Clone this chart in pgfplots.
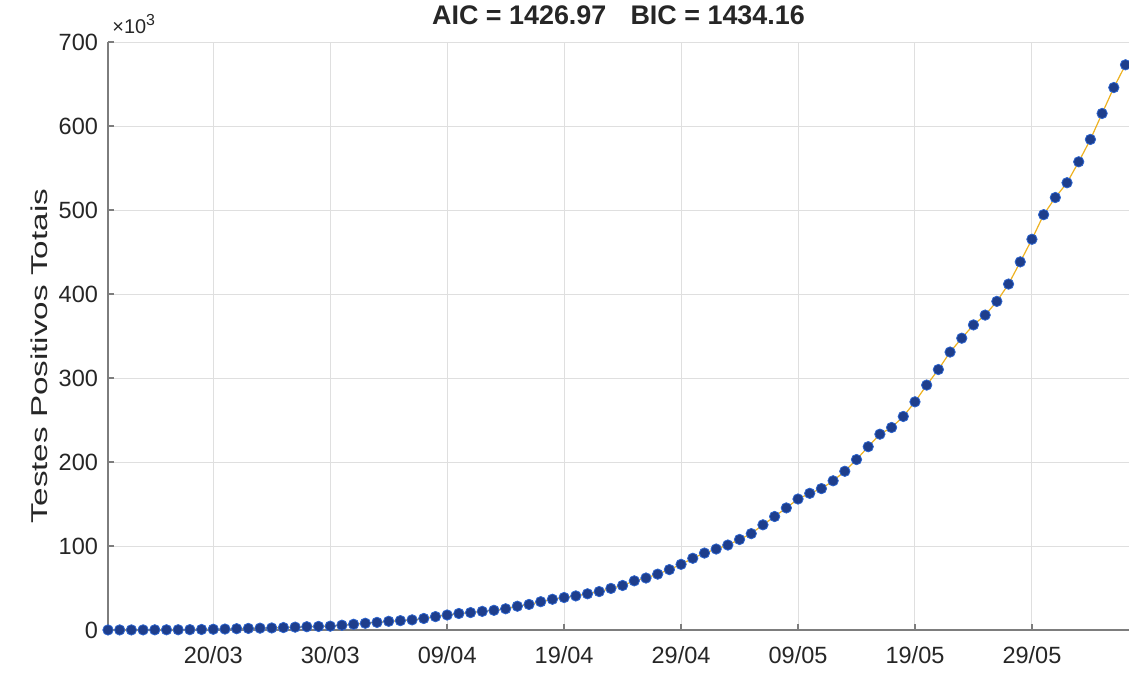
\documentclass[border=0pt]{standalone}
\usepackage{fontspec}
\setmainfont{Liberation Sans}
\usepackage{pgfplots}
\usepackage{pgfplotstable}
\pgfplotsset{compat=1.18}

\definecolor{mgrid}{RGB}{223,223,223}
\definecolor{maxis}{RGB}{125,125,125}
\definecolor{mtext}{RGB}{38,38,38}
\definecolor{fitline}{RGB}{237,177,32}
\definecolor{dotfill}{RGB}{30,62,140}
\definecolor{dotedge}{RGB}{45,100,205}

% day 0 = 11/03, values in thousands
\pgfplotstableread{
d k
0 0.052
1 0.077
2 0.098
3 0.121
4 0.200
5 0.234
6 0.291
7 0.428
8 0.621
9 0.904
10 1.128
11 1.546
12 1.891
13 2.201
14 2.433
15 2.915
16 3.417
17 3.904
18 4.256
19 4.579
20 5.717
21 6.836
22 8.044
23 9.056
24 10.360
25 11.130
26 12.056
27 13.717
28 15.927
29 17.857
30 19.638
31 20.727
32 22.169
33 23.430
34 25.262
35 28.320
36 30.425
37 33.682
38 36.599
39 38.654
40 40.581
41 43.079
42 45.757
43 49.492
44 52.995
45 58.509
46 61.888
47 66.501
48 71.886
49 78.162
50 85.380
51 91.589
52 96.396
53 101.147
54 107.780
55 114.715
56 125.218
57 135.106
58 145.328
59 155.939
60 162.699
61 168.331
62 177.589
63 188.974
64 202.918
65 218.223
66 233.142
67 241.080
68 254.220
69 271.628
70 291.579
71 310.087
72 330.890
73 347.398
74 363.211
75 374.898
76 391.222
77 411.821
78 438.238
79 465.166
80 494.440
81 514.849
82 532.447
83 557.383
84 584.016
85 614.941
86 645.771
87 672.846
}\casos

\begin{document}
\begin{tikzpicture}
\begin{axis}[
  scale only axis,
  width=510.5bp, height=294bp,
  xmin=0, xmax=87.3,
  ymin=0, ymax=700,
  axis x line*=bottom, axis y line*=left,
  xtick={9,19,29,39,49,59,69,79},
  xticklabels={20/03,30/03,09/04,19/04,29/04,09/05,19/05,29/05},
  ytick={0,100,200,300,400,500,600,700},
  tick align=inside,
  major tick length=3bp,
  grid=major,
  grid style={mgrid, line width=0.5bp},
  axis line style={maxis, line width=0.8bp},
  tick style={maxis, line width=0.8bp},
  tick label style={mtext, font=\fontsize{11.8}{14}\selectfont},
  xticklabel style={yshift=-4.5bp},
  yticklabel style={xshift=-1.5bp},
  /pgf/number format/assume math mode=true,
  ylabel={Testes Positivos Totais},
  ylabel style={at={(axis description cs:-0.067,0.466)}, anchor=center, mtext,
    xscale=1.45, font=\fontsize{11.5}{13}\selectfont},
  title={AIC = 1426.97\hspace{0.9em}BIC = 1434.16},
  title style={at={(axis description cs:0.5,1)}, anchor=base, yshift=3bp,
    mtext, font=\bfseries\fontsize{13.5}{15}\selectfont},
  clip=false,
]
\addplot[fitline, line width=0.6bp] table[x=d, y=k] {\casos};
\addplot[only marks, mark=*, mark size=2.6bp,
  mark options={fill=dotfill, draw=dotedge, line width=0.4bp}]
  table[x=d, y=k] {\casos};
\node[anchor=base west, inner sep=0pt, mtext, font=\fontsize{10}{12}\selectfont]
  at (rel axis cs:0,1) [xshift=2bp, yshift=4.5bp] {×10\raisebox{0.75ex}{\fontsize{8}{9}\selectfont 3}};
\end{axis}
\pgfresetboundingbox
\path ([xshift=-54bp,yshift=-23bp]current axis.south west) rectangle ([yshift=21bp]current axis.north east);
\end{tikzpicture}
\end{document}
